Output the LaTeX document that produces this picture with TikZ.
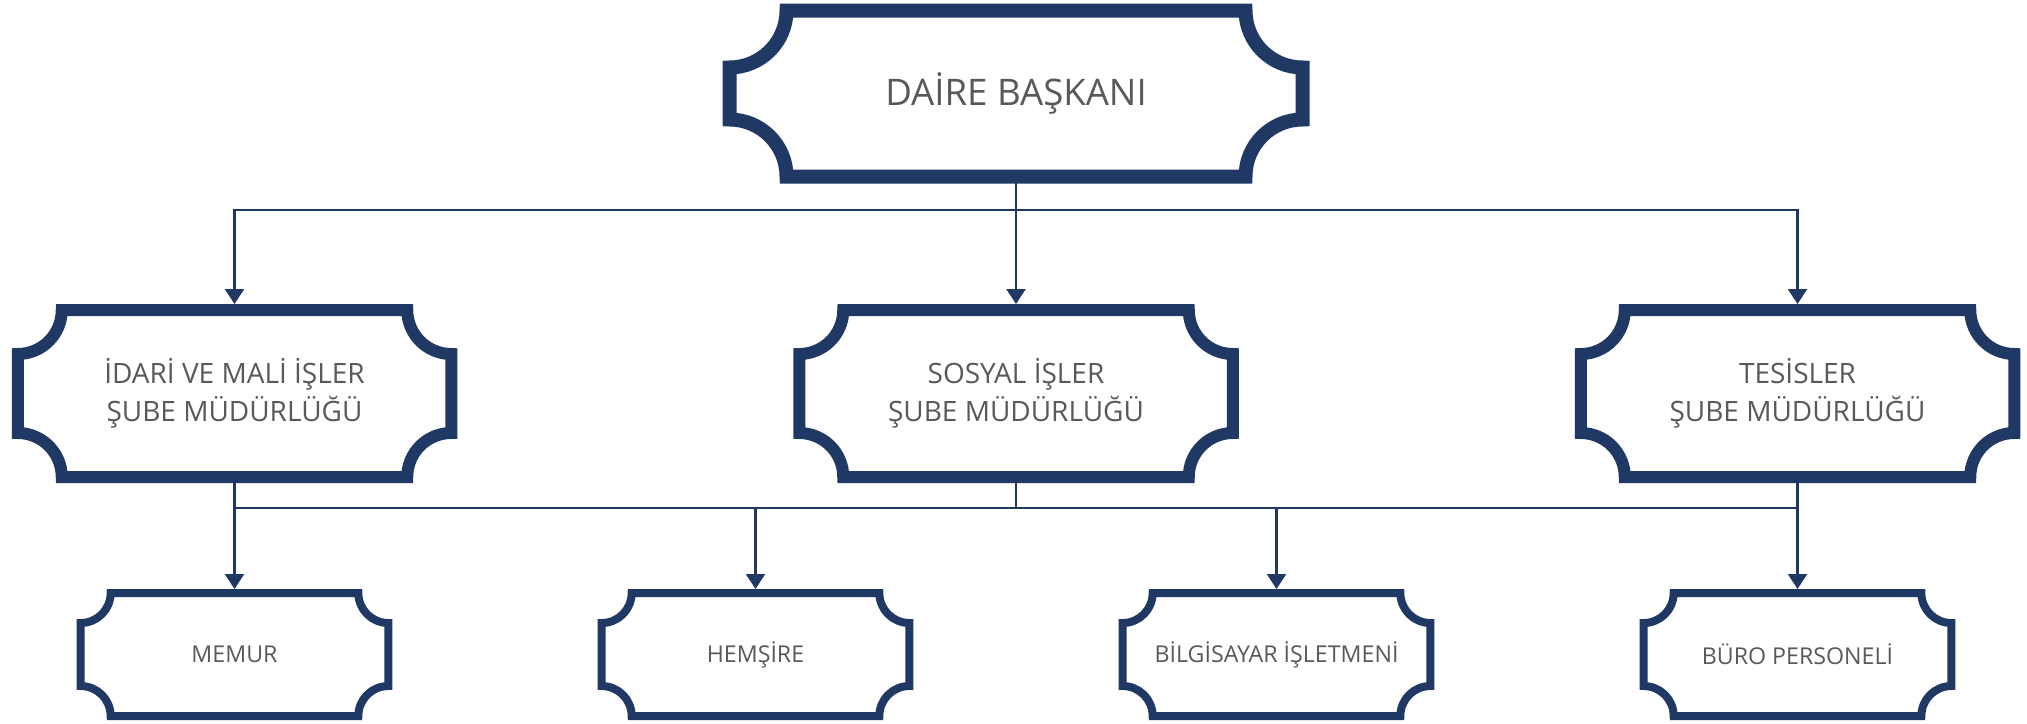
\documentclass[tikz,border=0pt]{standalone}
\usepackage{fontspec}
\setmainfont{Open Sans}
\usetikzlibrary{arrows.meta}
\definecolor{navy}{HTML}{203864}
\definecolor{textgray}{HTML}{595959}
\tikzset{
	plaque/.style={outer sep=0pt, inner sep=0pt, align=center, text=textgray},
	chiefbox/.style={plaque, minimum width=286.5pt, minimum height=83pt, font=\fontsize{18.3}{22}\selectfont},
	unitbox/.style={plaque, minimum width=216.75pt, minimum height=83.5pt, font=\fontsize{14}{19}\selectfont},
	staffbox/.style={plaque, minimum width=153.85pt, minimum height=61.5pt, font=\fontsize{11.6}{14}\selectfont},
	link/.style={draw=navy, line width=1.2pt},
	arrowlink/.style={link, -{Triangle[width=9.5pt,length=7.5pt]}}
}
\begin{document}
\begin{tikzpicture}[
			level 1/.style={sibling distance=390.75pt, level distance=150pt,
					edge from parent/.style={arrowlink, shorten >=3pt},
					edge from parent path={(\tikzparentnode.south) -- ++(0,-16.75pt) -| (\tikzchildnode.north)}},
			level 2/.style={sibling distance=260.5pt, level distance=130.5pt,
					edge from parent/.style={arrowlink, shorten >=2pt},
					edge from parent path={(\tikzparentnode.south) -- ++(0,-15.5pt) -| (\tikzchildnode.north)}}
		]
		\fill[white] (0,0) rectangle (1013.5pt,-361.5pt);
		\useasboundingbox (0,0) rectangle (1013.5pt,-361.5pt);
		\node[chiefbox] (chief) at (508pt,-46.75pt) {DAİRE BAŞKANI}
		child {node[unitbox] (idari) {İDARİ VE MALİ İŞLER\\ŞUBE MÜDÜRLÜĞÜ}}
		child {
				node[unitbox] (sosyal) {SOSYAL İŞLER\\ŞUBE MÜDÜRLÜĞÜ}
				child {node[staffbox] (memur) {MEMUR}}
				child {node[staffbox] (hemsire) {HEMŞİRE}}
				child {node[staffbox] (bilgisayar) {BİLGİSAYAR İŞLETMENİ}}
				child {node[staffbox] (buro) {BÜRO PERSONELİ}}
			}
		child {node[unitbox] (tesis) {TESİSLER\\ŞUBE MÜDÜRLÜĞÜ}};
		% the side units also feed the lower bus
		\coordinate (bus) at ([yshift=-15.5pt]sosyal.south);
		\draw[link] (idari.south) -- (idari.south |- bus);
		\draw[link] (tesis.south) -- (tesis.south |- bus);
		% plaque outlines
		\foreach \n/\r/\w in {chief/28.5pt/7pt, idari/22pt/6pt, sosyal/22pt/6pt, tesis/22pt/6pt,
				memur/15pt/4pt, hemsire/15pt/4pt, bilgisayar/15pt/4pt, buro/15pt/4pt}
		\draw[navy, line width=\w] ([xshift=\r]\n.north west) -- ([xshift=-\r]\n.north east)
		arc[start angle=180, end angle=270, radius=\r] -- ([yshift=\r]\n.south east)
		arc[start angle=90, end angle=180, radius=\r] -- ([xshift=\r]\n.south west)
		arc[start angle=0, end angle=90, radius=\r] -- ([yshift=-\r]\n.north west)
		arc[start angle=270, end angle=360, radius=\r] -- cycle;
	\end{tikzpicture}
\end{document}
